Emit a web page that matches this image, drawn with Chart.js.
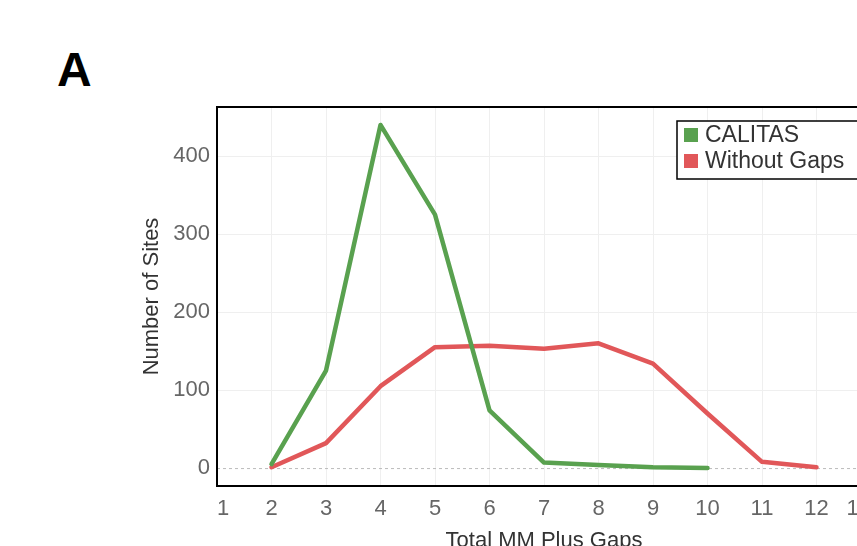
<!DOCTYPE html>
<html>
<head>
<meta charset="utf-8">
<script src="https://cdn.jsdelivr.net/npm/chart.js@4/dist/chart.umd.min.js"></script>
<style>
  html, body { margin: 0; padding: 0; background: #fff; overflow: hidden; }
  body { width: 857px; height: 546px; position: relative; }
  #panel {
    position: absolute; left: 57px; top: 46px;
    font: bold 48px/48px Arial, 'Liberation Sans', sans-serif; color: #000;
  }
  #chart { position: absolute; left: 0; top: 0; }
</style>
</head>
<body>
<div id="panel">A</div>
<canvas id="chart" width="900" height="580"></canvas>
<script>
const totalMM = [2, 3, 4, 5, 6, 7, 8, 9, 10, 11, 12]
const calitas = [5, 125, 440, 325, 74, 7, 4, 1, 0]
const withoutGaps = [1, 32, 105, 155, 157, 153, 160, 134, 70, 8, 1]
const yTicks = [0, 100, 200, 300, 400]

const green = '#59a14f'
const red = '#e15759'
const font = "Arial, 'Liberation Sans', sans-serif"

const points = (values) => values.map((v, i) => ({ x: totalMM[i], y: v }))

// black frame, dashed zero line and the boxed legend
const frame = {
  id: 'frame',
  beforeDatasetsDraw(chart) {
    const { ctx, chartArea: a, scales } = chart
    const y0 = scales.y.getPixelForValue(0)
    ctx.save()
    ctx.strokeStyle = '#bbb'
    ctx.lineWidth = 1
    ctx.setLineDash([3, 3])
    ctx.beginPath()
    ctx.moveTo(a.left, y0 + 0.5)
    ctx.lineTo(a.right, y0 + 0.5)
    ctx.stroke()
    ctx.restore()
  },
  afterDraw(chart) {
    const { ctx, chartArea: a } = chart
    ctx.save()
    ctx.strokeStyle = '#000'
    ctx.lineWidth = 2
    ctx.strokeRect(a.left, a.top, a.right - a.left, a.bottom - a.top)

    const lx = a.right - 194
    const ly = a.top + 14
    ctx.fillStyle = '#fff'
    ctx.fillRect(lx, ly, 240, 58)
    ctx.lineWidth = 1.5
    ctx.strokeRect(lx, ly, 240, 58)
    ctx.font = '23px ' + font
    ctx.textBaseline = 'middle'
    chart.data.datasets.forEach((ds, i) => {
      const cy = ly + 14 + i * 26
      ctx.fillStyle = ds.borderColor
      ctx.fillRect(lx + 7, cy - 7, 14, 14)
      ctx.fillStyle = '#333'
      ctx.fillText(ds.label, lx + 28, cy + 1)
    })
    ctx.restore()
  },
}

new Chart(document.getElementById('chart'), {
  type: 'line',
  data: {
    datasets: [
      { label: 'CALITAS', data: points(calitas), borderColor: green, backgroundColor: green },
      { label: 'Without Gaps', data: points(withoutGaps), borderColor: red, backgroundColor: red },
    ],
  },
  options: {
    responsive: false,
    animation: false,
    devicePixelRatio: 1,
    borderWidth: 4.5,
    pointRadius: 0,
    tension: 0,
    borderCapStyle: 'round',
    borderJoinStyle: 'round',
    layout: { padding: { left: 135, top: 107, right: 29, bottom: 22 } },
    plugins: { legend: false, tooltip: false },
    scales: {
      x: {
        type: 'linear',
        min: 1,
        max: 13,
        afterFit: (s) => { s.height = 72 },
        ticks: { stepSize: 1, align: 'inner', padding: 10, color: '#666', font: { family: font, size: 22 } },
        grid: { color: '#efefef', drawTicks: false },
        border: { display: false },
        title: { display: true, text: 'Total MM Plus Gaps', color: '#333', font: { family: font, size: 22 } },
      },
      y: {
        min: -23,
        max: 463,
        afterFit: (s) => { s.width = 82 },
        afterBuildTicks: (s) => { s.ticks = yTicks.map((v) => ({ value: v })) },
        ticks: { padding: 7, color: '#666', font: { family: font, size: 22 } },
        grid: { color: (c) => (c.tick && c.tick.value === 0 ? 'rgba(0,0,0,0)' : '#efefef'), drawTicks: false },
        border: { display: false },
        title: { display: true, text: 'Number of Sites', color: '#333', font: { family: font, size: 22 } },
      },
    },
  },
  plugins: [frame],
})
</script>
</body>
</html>
